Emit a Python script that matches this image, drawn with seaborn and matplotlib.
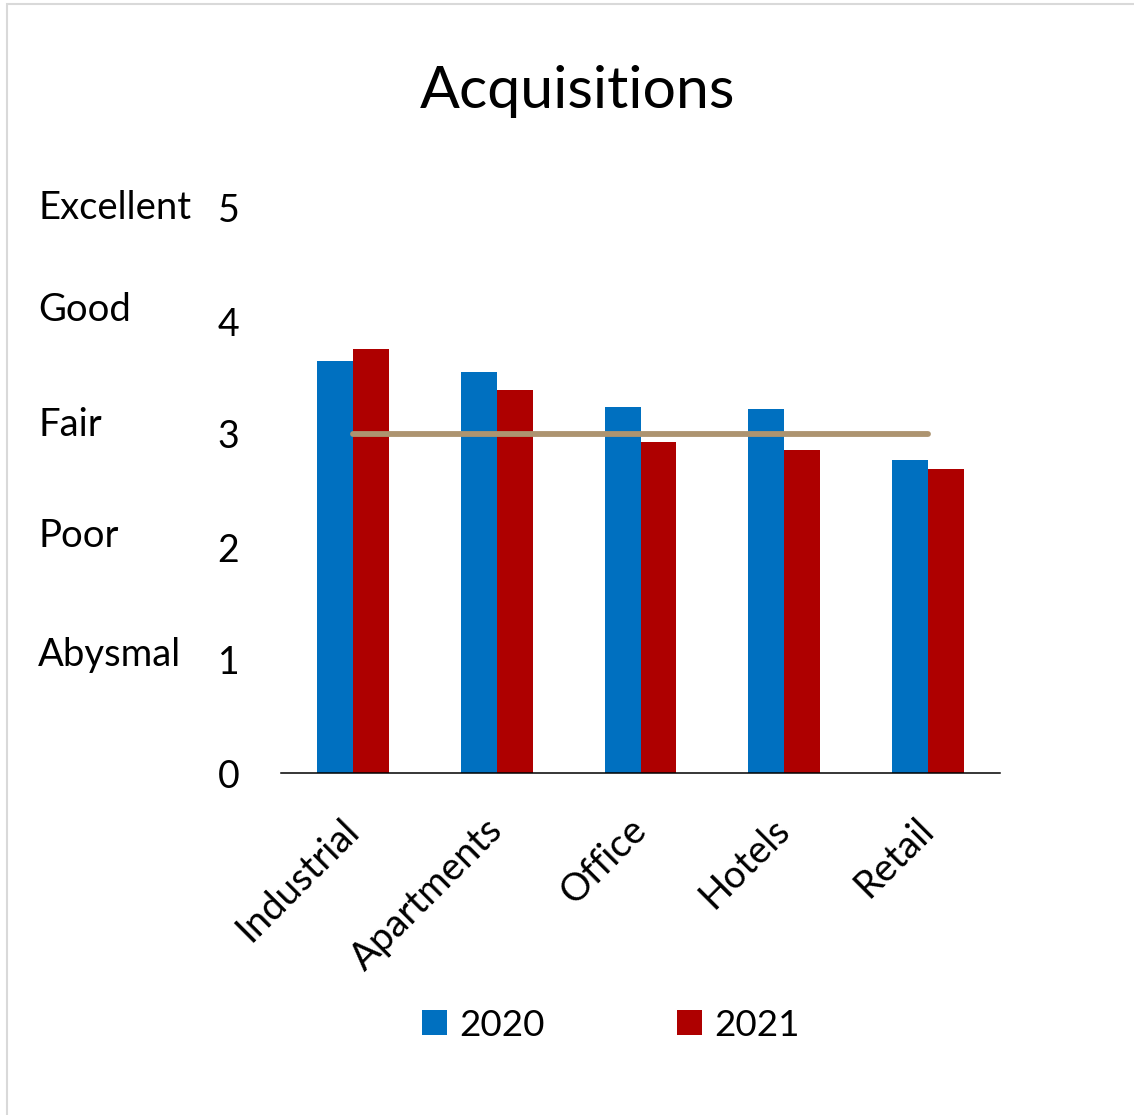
import numpy as np
import pandas as pd
import matplotlib.pyplot as plt
import matplotlib.transforms as mtransforms
from matplotlib.patches import Rectangle
import seaborn as sns

# chart values
categories = ['Industrial', 'Apartments', 'Office', 'Hotels', 'Retail']
scores_2020 = [3.65, 3.55, 3.24, 3.22, 2.77]
scores_2021 = [3.75, 3.39, 2.93, 2.86, 2.69]
benchmark = [3, 3, 3, 3, 3]
years = ['2020', '2021']
rating_labels = ['Abysmal', 'Poor', 'Fair', 'Good', 'Excellent']
rating_levels = [1, 2, 3, 4, 5]

df = pd.DataFrame({
    'Category': categories * 2,
    'Score': scores_2020 + scores_2021,
    'Year': [years[0]] * len(categories) + [years[1]] * len(categories),
})

sns.set_theme(style="white")
plt.rcParams['font.family'] = ['Lato', 'DejaVu Sans']
plt.rcParams['text.color'] = 'black'
plt.rcParams['xtick.color'] = 'black'
plt.rcParams['ytick.color'] = 'black'

fig = plt.figure(figsize=(11.34, 11.15), dpi=100)
ax = fig.add_axes([281 / 1134, 1 - 773 / 1115, 719 / 1134, 565 / 1115])

sns.barplot(data=df, x='Category', y='Score', hue='Year', order=categories,
            hue_order=years, palette=['#0070C0', '#AE0000'], width=0.5,
            saturation=1, linewidth=0, edgecolor='none', ax=ax)
# "Fair" benchmark line
ax.plot(np.arange(len(categories)), benchmark, color='#AD9470', lw=4.2,
        solid_capstyle='round', zorder=5)

ax.set_ylim(0, 5)
ax.set_xlim(-0.5, len(categories) - 0.5)
ax.set_yticks([0, 1, 2, 3, 4, 5])
ax.set_xlabel('')
ax.set_ylabel('')
ax.tick_params(axis='y', length=0, pad=30, labelsize=27, labelcolor='black')
ax.tick_params(axis='x', length=0, pad=37, labelsize=27.5, labelcolor='black')
plt.setp(ax.get_xticklabels(), rotation=45, ha='right', va='center',
         rotation_mode='anchor')
for side in ['left', 'right', 'top']:
    ax.spines[side].set_visible(False)
ax.spines['bottom'].set_color('black')
ax.spines['bottom'].set_linewidth(1.1)

# qualitative rating names on the far left
trans = mtransforms.blended_transform_factory(fig.transFigure, ax.transData)
offsets = [0.04, 0.10, 0.08, 0.10, 0.0]
for lab, lvl, off in zip(rating_labels, rating_levels, offsets):
    ax.text(38 / 1134, lvl + off, lab, transform=trans, fontsize=27.5,
            ha='left', va='center', clip_on=False, color='black')

fig.text(578 / 1134, 1 - 92 / 1115, 'Acquisitions', fontsize=42.5,
         ha='center', va='center', color='black')

handles, labels = ax.get_legend_handles_labels()
ax.get_legend().remove()
leg = fig.legend(handles, labels, loc='center', bbox_to_anchor=(611 / 1134, 1 - 1025 / 1115),
                 ncol=2, frameon=False, fontsize=26.5, handlelength=0.68, handleheight=0.68,
                 handletextpad=0.33, columnspacing=3.6)
for t in leg.get_texts():
    t.set_color('black')

# light frame like the original chart area
fig.add_artist(Rectangle((7 / 1134, -0.02), 1.05, 1 - 4 / 1115 + 0.02,
                         transform=fig.transFigure, fill=False,
                         edgecolor='#D9D9D9', lw=1.5))

fig.savefig('out.png', dpi=100)
